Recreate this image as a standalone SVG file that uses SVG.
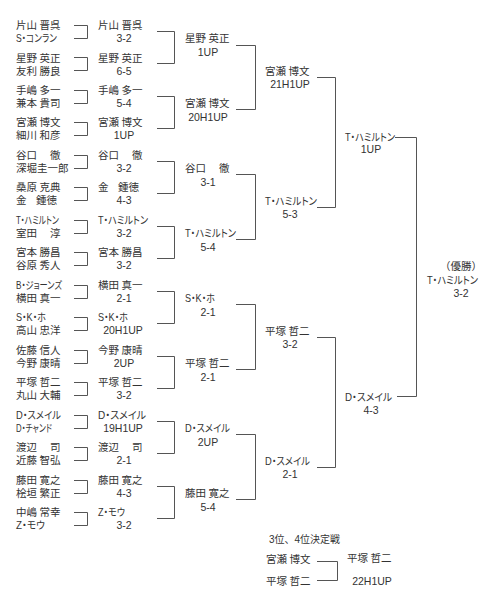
<svg xmlns="http://www.w3.org/2000/svg" width="493" height="600" viewBox="0 0 493 600">
<style>
text { font-family: "Liberation Sans", "Noto Sans CJK JP", sans-serif; font-size: 10.5px; fill: #333; }
.k { font-feature-settings: "palt"; }
.s { font-family: "Liberation Sans", sans-serif; font-size: 10.5px; text-anchor: middle; }
.ln { fill: none; stroke: #555; stroke-width: 1; }
</style>
<rect width="493" height="600" fill="#fff"/>
<g id="connectors" class="ln">
<path d="M74 25.5H87.5V38.5H74M74 57.5H87.5V70.5H74M74 90.5H87.5V103.5H74M74 122.5H87.5V135.5H74M74 155.5H87.5V168.5H74M74 187.5H87.5V200.5H74M74 220.5H87.5V233.5H74M74 252.5H87.5V265.5H74M74 285.5H87.5V298.5H74M74 317.5H87.5V330.5H74M74 350.5H87.5V363.5H74M74 382.5H87.5V395.5H74M74 415.5H87.5V428.5H74M74 447.5H87.5V460.5H74M74 480.5H87.5V493.5H74M74 512.5H87.5V525.5H74"/>
<path d="M157 31.5H174.5V63.5H157M157 96.5H174.5V128.5H157M157 161.5H174.5V193.5H157M157 226.5H174.5V258.5H157M157 291.5H174.5V323.5H157M157 356.5H174.5V388.5H157M157 421.5H174.5V453.5H157M157 486.5H174.5V518.5H157"/>
<path d="M236 45.5H255.5V109.5H236M236 174.5H255.5V239.5H236M236 304.5H255.5V369.5H236M236 434.5H255.5V499.5H236"/>
<path d="M317 77.5H335.5V207.5H317M317 337.5H335.5V467.5H317"/>
<path d="M395 137.5H416.5V396.5H397"/>
<path d="M317 561.5H337.5V580.5H317"/>
</g>
<g id="round1">
<g id="p1"><text x="16" y="29">片山 <tspan x="39.5">晋呉</tspan></text><text class="k" x="16" y="42" textLength="41" lengthAdjust="spacingAndGlyphs">S・コンラン</text></g>
<g id="p2"><text x="16" y="61.5">星野 <tspan x="39.5">英正</tspan></text><text x="16" y="74.5">友利 <tspan x="39.5">勝良</tspan></text></g>
<g id="p3"><text x="16" y="93.9">手嶋 <tspan x="39.5">多一</tspan></text><text x="16" y="106.9">兼本 <tspan x="39.5">貴司</tspan></text></g>
<g id="p4"><text x="16" y="126.4">宮瀬 <tspan x="39.5">博文</tspan></text><text x="16" y="139.4">細川 <tspan x="39.5">和彦</tspan></text></g>
<g id="p5"><text x="16" y="158.9">谷口 <tspan x="50">徹</tspan></text><text x="16" y="171.9">深堀圭一郎</text></g>
<g id="p6"><text x="16" y="191.4">桑原 <tspan x="39.5">克典</tspan></text><text x="16" y="204.4">金 <tspan x="36">鍾徳</tspan></text></g>
<g id="p7"><text class="k" x="16" y="223.8" textLength="43" lengthAdjust="spacingAndGlyphs">T・ハミルトン</text><text x="16" y="236.8">室田 <tspan x="50">淳</tspan></text></g>
<g id="p8"><text x="16" y="256.3">宮本 <tspan x="39.5">勝昌</tspan></text><text x="16" y="269.3">谷原 <tspan x="39.5">秀人</tspan></text></g>
<g id="p9"><text class="k" x="16" y="288.8" textLength="46" lengthAdjust="spacingAndGlyphs">B・ジョーンズ</text><text x="16" y="301.8">横田 <tspan x="39.5">真一</tspan></text></g>
<g id="p10"><text class="k" x="16" y="321.2" textLength="30" lengthAdjust="spacingAndGlyphs">S・K・ホ</text><text x="16" y="334.2">高山 <tspan x="39.5">忠洋</tspan></text></g>
<g id="p11"><text x="16" y="353.7">佐藤 <tspan x="39.5">信人</tspan></text><text x="16" y="366.7">今野 <tspan x="39.5">康晴</tspan></text></g>
<g id="p12"><text x="16" y="386.2">平塚 <tspan x="39.5">哲二</tspan></text><text x="16" y="399.2">丸山 <tspan x="39.5">大輔</tspan></text></g>
<g id="p13"><text class="k" x="16" y="418.6" textLength="45" lengthAdjust="spacingAndGlyphs">D・スメイル</text><text class="k" x="16" y="431.6" textLength="36" lengthAdjust="spacingAndGlyphs">D・チャンド</text></g>
<g id="p14"><text x="16" y="451.1">渡辺 <tspan x="50">司</tspan></text><text x="16" y="464.1">近藤 <tspan x="39.5">智弘</tspan></text></g>
<g id="p15"><text x="16" y="483.6">藤田 <tspan x="39.5">寛之</tspan></text><text x="16" y="496.6">桧垣 <tspan x="39.5">繁正</tspan></text></g>
<g id="p16"><text x="16" y="516.1">中嶋 <tspan x="39.5">常幸</tspan></text><text class="k" x="16" y="529.1" textLength="29" lengthAdjust="spacingAndGlyphs">Z・モウ</text></g>
</g>
<g id="round2">
<g id="w1"><text x="98" y="29">片山 <tspan x="121.5">晋呉</tspan></text><text class="s" x="124" y="42">3-2</text></g>
<g id="w2"><text x="98" y="61.5">星野 <tspan x="121.5">英正</tspan></text><text class="s" x="124" y="74.5">6-5</text></g>
<g id="w3"><text x="98" y="93.9">手嶋 <tspan x="121.5">多一</tspan></text><text class="s" x="124" y="106.9">5-4</text></g>
<g id="w4"><text x="98" y="126.4">宮瀬 <tspan x="121.5">博文</tspan></text><text class="s" x="124" y="139.4">1UP</text></g>
<g id="w5"><text x="98" y="158.9">谷口 <tspan x="132">徹</tspan></text><text class="s" x="124" y="171.9">3-2</text></g>
<g id="w6"><text x="98" y="191.4">金 <tspan x="118">鍾徳</tspan></text><text class="s" x="124" y="204.4">4-3</text></g>
<g id="w7"><text class="k" x="98" y="223.8" textLength="50" lengthAdjust="spacingAndGlyphs">T・ハミルトン</text><text class="s" x="124" y="236.8">3-2</text></g>
<g id="w8"><text x="98" y="256.3">宮本 <tspan x="121.5">勝昌</tspan></text><text class="s" x="124" y="269.3">3-2</text></g>
<g id="w9"><text x="98" y="288.8">横田 <tspan x="121.5">真一</tspan></text><text class="s" x="124" y="301.8">2-1</text></g>
<g id="w10"><text class="k" x="98" y="321.2" textLength="30" lengthAdjust="spacingAndGlyphs">S・K・ホ</text><text class="s" x="123" y="334.2">20H1UP</text></g>
<g id="w11"><text x="98" y="353.7">今野 <tspan x="121.5">康晴</tspan></text><text class="s" x="124" y="366.7">2UP</text></g>
<g id="w12"><text x="98" y="386.2">平塚 <tspan x="121.5">哲二</tspan></text><text class="s" x="124" y="399.2">3-2</text></g>
<g id="w13"><text class="k" x="98" y="418.6" textLength="48" lengthAdjust="spacingAndGlyphs">D・スメイル</text><text class="s" x="123" y="431.6">19H1UP</text></g>
<g id="w14"><text x="98" y="451.1">渡辺 <tspan x="132">司</tspan></text><text class="s" x="124" y="464.1">2-1</text></g>
<g id="w15"><text x="98" y="483.6">藤田 <tspan x="121.5">寛之</tspan></text><text class="s" x="124" y="496.6">4-3</text></g>
<g id="w16"><text class="k" x="98" y="516.1" textLength="27" lengthAdjust="spacingAndGlyphs">Z・モウ</text><text class="s" x="124" y="529.1">3-2</text></g>
</g>
<g id="round3">
<g id="q1"><text x="185" y="42">星野 <tspan x="208.5">英正</tspan></text><text class="s" x="208" y="56">1UP</text></g>
<g id="q2"><text x="185" y="106.9">宮瀬 <tspan x="208.5">博文</tspan></text><text class="s" x="208" y="120.9">20H1UP</text></g>
<g id="q3"><text x="185" y="171.9">谷口 <tspan x="219">徹</tspan></text><text class="s" x="208" y="185.9">3-1</text></g>
<g id="q4"><text class="k" x="185" y="236.8" textLength="51" lengthAdjust="spacingAndGlyphs">T・ハミルトン</text><text class="s" x="208" y="250.8">5-4</text></g>
<g id="q5"><text class="k" x="185" y="301.8" textLength="30" lengthAdjust="spacingAndGlyphs">S・K・ホ</text><text class="s" x="208" y="315.8">2-1</text></g>
<g id="q6"><text x="185" y="366.7">平塚 <tspan x="208.5">哲二</tspan></text><text class="s" x="208" y="380.7">2-1</text></g>
<g id="q7"><text class="k" x="185" y="431.6" textLength="45" lengthAdjust="spacingAndGlyphs">D・スメイル</text><text class="s" x="208" y="445.6">2UP</text></g>
<g id="q8"><text x="185" y="496.6">藤田 <tspan x="208.5">寛之</tspan></text><text class="s" x="208" y="510.6">5-4</text></g>
</g>
<g id="round4">
<g id="s1"><text x="265" y="75">宮瀬 <tspan x="288.5">博文</tspan></text><text class="s" x="290" y="88">21H1UP</text></g>
<g id="s2"><text class="k" x="265" y="204.9" textLength="52" lengthAdjust="spacingAndGlyphs">T・ハミルトン</text><text class="s" x="290" y="217.9">5-3</text></g>
<g id="s3"><text x="265" y="334.8">平塚 <tspan x="288.5">哲二</tspan></text><text class="s" x="290" y="347.8">3-2</text></g>
<g id="s4"><text class="k" x="265" y="464.7" textLength="45" lengthAdjust="spacingAndGlyphs">D・スメイル</text><text class="s" x="290" y="477.7">2-1</text></g>
</g>
<g id="round5">
<g id="f1"><text class="k" x="345" y="141" textLength="50" lengthAdjust="spacingAndGlyphs">T・ハミルトン</text><text class="s" x="371" y="153">1UP</text></g>
<g id="f2"><text class="k" x="345" y="401" textLength="47" lengthAdjust="spacingAndGlyphs">D・スメイル</text><text class="s" x="371" y="414">4-3</text></g>
</g>
<g id="champion">
<text x="440" y="270">（優勝）</text>
<text class="k" x="427" y="284" textLength="51" lengthAdjust="spacingAndGlyphs">T・ハミルトン</text>
<text class="s" x="461" y="297">3-2</text>
</g>
<g id="third-place">
<text x="269" y="543" textLength="71" lengthAdjust="spacingAndGlyphs">3位、4位決定戦</text>
<g id="t1"><text x="266" y="563">宮瀬 <tspan x="289.5">博文</tspan></text></g>
<g id="t2"><text x="266" y="585">平塚 <tspan x="289.5">哲二</tspan></text></g>
<g id="t3"><text x="347" y="562">平塚 <tspan x="370.5">哲二</tspan></text><text class="s" x="372" y="585">22H1UP</text></g>
</g>
</svg>
